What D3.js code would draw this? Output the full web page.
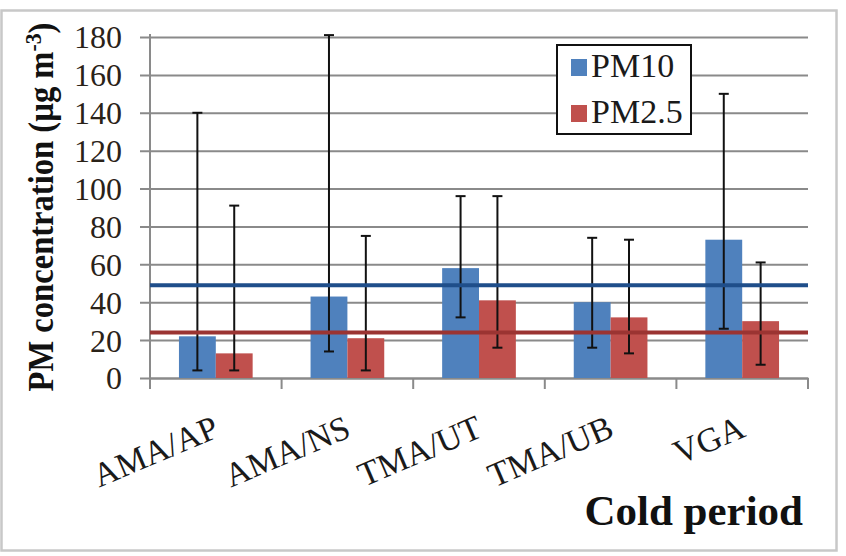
<!DOCTYPE html>
<html>
<head>
<meta charset="utf-8">
<script src="https://cdn.jsdelivr.net/npm/d3@7"></script>
<style>
    body { margin: 0; background: #fff; }
</style>
</head>
<body>
<div id="chart"></div>
<script>
let sites = ['AMA/AP', 'AMA/NS', 'TMA/UT', 'TMA/UB', 'VGA'];
let seriesNames = ['PM10', 'PM2.5'];
let pm10Mean = [22, 43, 58, 40, 73];
let pm10Low = [4, 14, 32, 16, 26];
let pm10High = [140, 181, 96, 74, 150];
let pm25Mean = [13, 21, 41, 32, 30];
let pm25Low = [4, 4, 16, 13, 7];
let pm25High = [91, 75, 96, 73, 61];
let limitValues = [49, 24];
let yTicks = [0, 20, 40, 60, 80, 100, 120, 140, 160, 180];

let serif = '"Liberation Serif", "Times New Roman", Times, serif';
let colors = {PM10: '#4f81bd', 'PM2.5': '#c0504d'};
let lineColors = {PM10: '#1f4e8a', 'PM2.5': '#9b3432'};

function buildRows() {
    return sites.map((site, i) => {
        return {
            site: site,
            values: [
                {series: 'PM10', mean: pm10Mean[i], low: pm10Low[i], high: pm10High[i]},
                {series: 'PM2.5', mean: pm25Mean[i], low: pm25Low[i], high: pm25High[i]}
            ]
        };
    });
}

function fitText(sel, target) {
    let w = sel.node().getComputedTextLength();
    return target / w;
}

(function drawChart() {
    let width = 846, height = 556;
    let plot = {left: 150, right: 808, top: 37, bottom: 378};
    let rows = buildRows();

    let svg = d3.select('#chart').append('svg')
        .attr('width', width)
        .attr('height', height)
        .attr('font-family', serif);

    // outer chart frame
    svg.append('rect')
        .attr('x', 1.5).attr('y', 10.5)
        .attr('width', 835).attr('height', 540)
        .attr('fill', '#fff')
        .attr('stroke', '#c8c8c8')
        .attr('stroke-width', 2.5);

    let x0 = d3.scaleBand()
        .domain(sites)
        .range([plot.left, plot.right])
        .padding(0);
    let x1 = d3.scaleBand()
        .domain(seriesNames)
        .range([x0.bandwidth() * 0.22, x0.bandwidth() * 0.78]);
    let y = d3.scaleLinear()
        .domain([0, 180])
        .range([plot.bottom, plot.top]);

    // gridlines + y axis
    let yAxis = d3.axisLeft(y)
        .tickValues(yTicks)
        .tickSize(plot.right - plot.left + 10)
        .tickFormat(d3.format('d'));
    let gy = svg.append('g')
        .attr('transform', 'translate(' + plot.right + ',0)')
        .call(yAxis)
        .attr('font-family', serif);
    gy.select('.domain').remove();
    gy.selectAll('.tick line')
        .attr('stroke', '#8a8a8a')
        .attr('stroke-width', 2);
    gy.selectAll('.tick text')
        .attr('x', -(plot.right - plot.left) - 28)
        .attr('dy', '0.34em')
        .attr('fill', '#2a2218')
        .style('font-family', serif)
        .style('font-size', '32px');

    svg.append('line')
        .attr('x1', plot.left).attr('x2', plot.left)
        .attr('y1', plot.top - 3).attr('y2', plot.bottom)
        .attr('stroke', '#8a8a8a')
        .attr('stroke-width', 2);

    // x axis
    let xAxis = d3.axisBottom(x0).tickSize(0).tickFormat('');
    let gx = svg.append('g')
        .attr('transform', 'translate(0,' + plot.bottom + ')')
        .call(xAxis);
    gx.select('.domain').attr('stroke', '#8a8a8a').attr('stroke-width', 2);
    let boundaries = sites.map(s => x0(s)).concat([plot.right]);
    gx.selectAll('.sep')
        .data(boundaries)
        .enter().append('line')
        .attr('x1', d => d).attr('x2', d => d)
        .attr('y1', 0).attr('y2', 11)
        .attr('stroke', '#8a8a8a')
        .attr('stroke-width', 2);

    svg.selectAll('.site-label')
        .data(sites)
        .enter().append('text')
        .attr('class', 'site-label')
        .attr('transform', d => 'translate(' + (x0(d) + x0.bandwidth() / 2 + 5) + ',436) rotate(-23)')
        .attr('text-anchor', 'end')
        .attr('fill', '#1a1a1a')
        .style('font-family', serif)
        .style('font-size', '34px')
        .text(d => d);

    // bars
    let groups = svg.selectAll('.site')
        .data(rows)
        .enter().append('g')
        .attr('class', 'site')
        .attr('transform', d => 'translate(' + x0(d.site) + ',0)');

    groups.selectAll('rect')
        .data(d => d.values)
        .enter().append('rect')
        .attr('x', d => x1(d.series))
        .attr('width', x1.bandwidth())
        .attr('y', d => y(d.mean))
        .attr('height', d => y(0) - y(d.mean))
        .attr('fill', d => colors[d.series]);

    // limit lines
    svg.selectAll('.limit')
        .data(seriesNames)
        .enter().append('line')
        .attr('class', 'limit')
        .attr('x1', plot.left).attr('x2', plot.right)
        .attr('y1', (d, i) => y(limitValues[i]))
        .attr('y2', (d, i) => y(limitValues[i]))
        .attr('stroke', d => lineColors[d])
        .attr('stroke-width', 4);

    // error bars
    let err = groups.selectAll('.err')
        .data(d => d.values)
        .enter().append('g')
        .attr('class', 'err')
        .attr('transform', d => 'translate(' + (x1(d.series) + x1.bandwidth() / 2) + ',0)')
        .attr('stroke', '#111')
        .attr('stroke-width', 2);
    err.append('line')
        .attr('y1', d => y(d.low)).attr('y2', d => y(d.high));
    err.append('line')
        .attr('x1', -5).attr('x2', 5)
        .attr('y1', d => y(d.low)).attr('y2', d => y(d.low));
    err.append('line')
        .attr('x1', -5).attr('x2', 5)
        .attr('y1', d => y(d.high)).attr('y2', d => y(d.high));

    // legend
    let legend = svg.append('g');
    legend.append('rect')
        .attr('x', 557).attr('y', 45)
        .attr('width', 134).attr('height', 89)
        .attr('fill', '#fff')
        .attr('stroke', '#111')
        .attr('stroke-width', 2);
    let items = legend.selectAll('.item')
        .data(seriesNames)
        .enter().append('g')
        .attr('transform', (d, i) => 'translate(571,' + (59 + i * 46) + ')');
    items.append('rect')
        .attr('width', 16).attr('height', 17)
        .attr('fill', d => colors[d]);
    items.append('text')
        .attr('x', 20).attr('y', 18)
        .attr('fill', '#1a1a1a')
        .style('font-family', serif)
        .style('font-size', '34px')
        .text(d => d);

    // axis titles
    let yTitle = svg.append('text')
        .attr('text-anchor', 'middle')
        .attr('font-weight', 'bold')
        .attr('fill', '#111')
        .style('font-family', serif)
        .style('font-size', '36px');
    yTitle.append('tspan').text('PM concentration (µg m');
    yTitle.append('tspan').attr('dy', -12).style('font-size', '24px').text('-3');
    yTitle.append('tspan').attr('dy', 12).text(')');
    let sy = fitText(yTitle, 369);
    yTitle.attr('transform', 'translate(53,207) rotate(-90) scale(' + sy + ',1)');

    svg.append('text')
        .attr('x', 803).attr('y', 525)
        .attr('text-anchor', 'end')
        .attr('font-weight', 'bold')
        .attr('fill', '#111')
        .style('font-family', serif)
        .style('font-size', '43px')
        .text('Cold period');
}());
</script>
</body>
</html>
